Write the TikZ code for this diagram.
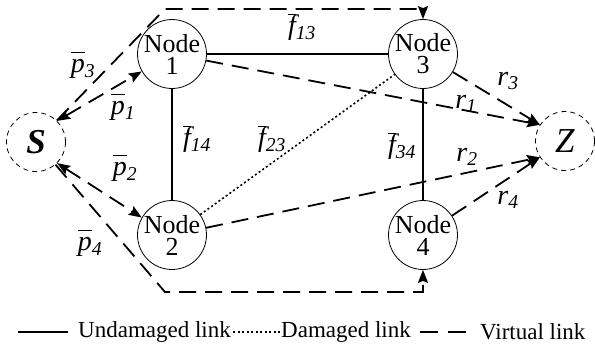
\documentclass[tikz,border=0pt]{standalone}
\usepackage{fontspec}
\setmainfont{Liberation Serif}
\usetikzlibrary{arrows.meta}
\newcommand{\barlbl}[2]{$\overline{\mbox{\itshape\vphantom{d}#1}}$\textsubscript{\itshape #2}}
\newcommand{\rlbl}[1]{\textit{r}\textsubscript{\itshape #1}}
\begin{document}
\begin{tikzpicture}[x=1pt, y=-1pt, >={Stealth[length=13pt,width=10pt,inset=2pt]},
    router/.style={circle, draw, line width=0.8pt, minimum size=59pt, inner sep=0pt, align=center, font=\fontsize{26}{22}\selectfont},
    endpt/.style={circle, draw, dash pattern=on 5pt off 4pt, line width=0.8pt, minimum size=59pt, inner sep=0pt, font=\fontsize{35}{35}\selectfont},
    lbl/.style={inner sep=0pt, font=\fontsize{28}{28}\selectfont},
    legend/.style={inner sep=0pt, anchor=west, font=\fontsize{23}{23}\selectfont},
    fixed/.style={line width=1.6pt},
    broken/.style={line width=1.6pt, dash pattern=on 2pt off 2.5pt},
    virtual/.style={line width=1.8pt, dash pattern=on 17pt off 9pt}]
    \useasboundingbox (0,0) rectangle (595,349);
    \node[endpt] (s) at (36,142) {\textbf{\textit{S}}};
    \node[endpt] (z) at (565,141) {\textit{Z}};
    \node[router] (n1) at (172,54) {Node\\1};
    \node[router] (n2) at (172,235) {Node\\2};
    \node[router] (n3) at (423,54) {Node\\3};
    \node[router] (n4) at (423,235) {Node\\4};
    \coordinate (c3) at (165,9);
    \coordinate (c4) at (165,292);
    % physical links
    \draw[fixed] (n1) -- (n3);
    \draw[fixed] (n1) -- (n2);
    \draw[fixed] (n3) -- (n4);
    \draw[broken] (n2) -- (n3);
    % virtual links
    \draw[virtual, <->] (s.45) -- (n1.210);
    \draw[virtual, <->] (s.-45) -- (n2.150);
    \draw[virtual, ->] (s) -- (c3) -| (n3);
    \draw[virtual, ->] (s) -- (c4) -| (n4);
    \draw[virtual, ->] (n1) -- (z.147);
    \draw[virtual, ->] (n3) -- (z.147);
    \draw[virtual, ->] (n2) -- (z.213);
    \draw[virtual, ->] (n4) -- (z.213);
    % labels
    \node[lbl] (p3) at (83,65) {\barlbl{p}{3}};
    \node[lbl] (p1) at (123,107) {\barlbl{p}{1}};
    \node[lbl] (p2) at (125,168) {\barlbl{p}{2}};
    \node[lbl] (p4) at (90,243) {\barlbl{p}{4}};
    \node[lbl] (f13) at (302,27) {\barlbl{f}{13}};
    \node[lbl] (f14) at (197,139) {\barlbl{f}{14}};
    \node[lbl] (f23) at (272,139) {\barlbl{f}{23}};
    \node[lbl] (f34) at (402,146) {\barlbl{f}{34}};
    \node[lbl] (r1) at (466,104) {\rlbl{1}};
    \node[lbl] (r2) at (467,157) {\rlbl{2}};
    \node[lbl] (r3) at (508,81) {\rlbl{3}};
    \node[lbl] (r4) at (508,200) {\rlbl{4}};
    % legend
    \node[legend] (lgu) at (78,332) {Undamaged link};
    \node[legend] (lgd) at (281,332) {Damaged link};
    \node[legend] (lgv) at (480,332) {Virtual link};
    \draw[fixed] ([xshift=-60pt]lgu.west) -- ([xshift=-10pt]lgu.west);
    \draw[broken] ([xshift=-48pt]lgd.west) -- ([xshift=-1pt]lgd.west);
    \draw[virtual, dash pattern=on 18pt off 10pt] ([xshift=-60pt]lgv.west) -- ([xshift=-13pt]lgv.west);
\end{tikzpicture}
\end{document}
